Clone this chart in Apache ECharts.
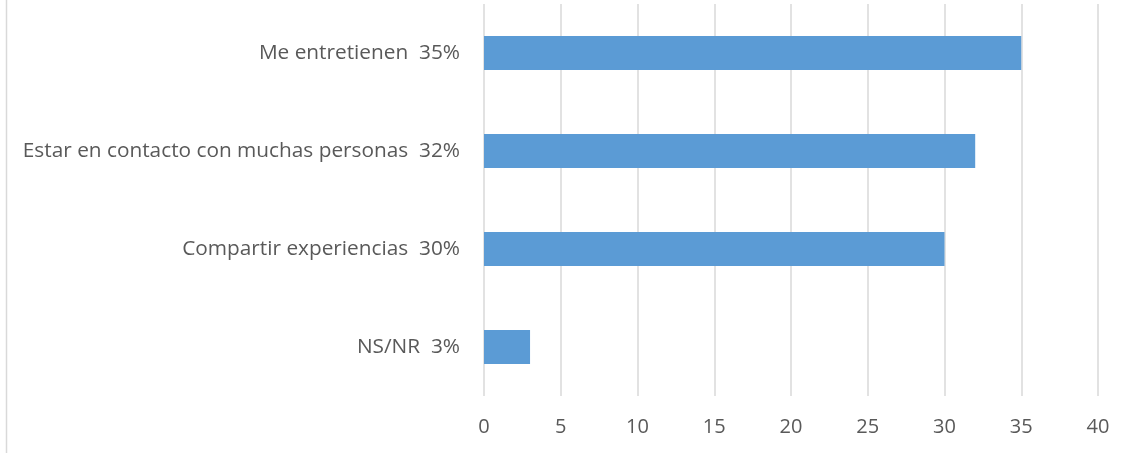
<!DOCTYPE html>
<html><head><meta charset="utf-8">
<script src="https://cdn.jsdelivr.net/npm/echarts@6/dist/echarts.min.js"></script>
<style>html,body{margin:0;padding:0;background:#fff}#c{width:1136px;height:453px}</style>
</head><body><div id="c"></div>
<script>
const categories = ["NS/NR", "Compartir experiencias", "Estar en contacto con muchas personas", "Me entretienen"];
const percentLabels = ["3%", "30%", "32%", "35%"];
const values = [3, 30, 32, 35];
const xTicks = [0, 5, 10, 15, 20, 25, 30, 35, 40];

const chart = echarts.init(document.getElementById('c'));
const font = '"Open Sans", sans-serif';
chart.setOption({
  animation: false,
  grid: { left: 484, right: 38, top: 4, bottom: 57, containLabel: false },
  graphic: [{ type: 'line', shape: { x1: 6.5, y1: 0, x2: 6.5, y2: 453 }, style: { stroke: '#d9d9d9', lineWidth: 1.5 } }],
  xAxis: {
    type: 'value', min: xTicks[0], max: xTicks[xTicks.length - 1], interval: 5,
    axisLine: { show: false }, axisTick: { show: false },
    splitLine: { lineStyle: { color: '#d9d9d9', width: 1.5 } },
    axisLabel: { color: '#595959', fontSize: 20, fontFamily: font, margin: 21 }
  },
  yAxis: {
    type: 'category', data: categories.map((c, i) => c + '  ' + percentLabels[i]),
    axisLine: { show: false }, axisTick: { show: false },
    axisLabel: { color: '#595959', fontSize: 20.8, fontFamily: font, margin: 24 }
  },
  series: [{ type: 'bar', data: values, barWidth: 34, itemStyle: { color: '#5b9bd5' } }]
});
</script></body></html>
